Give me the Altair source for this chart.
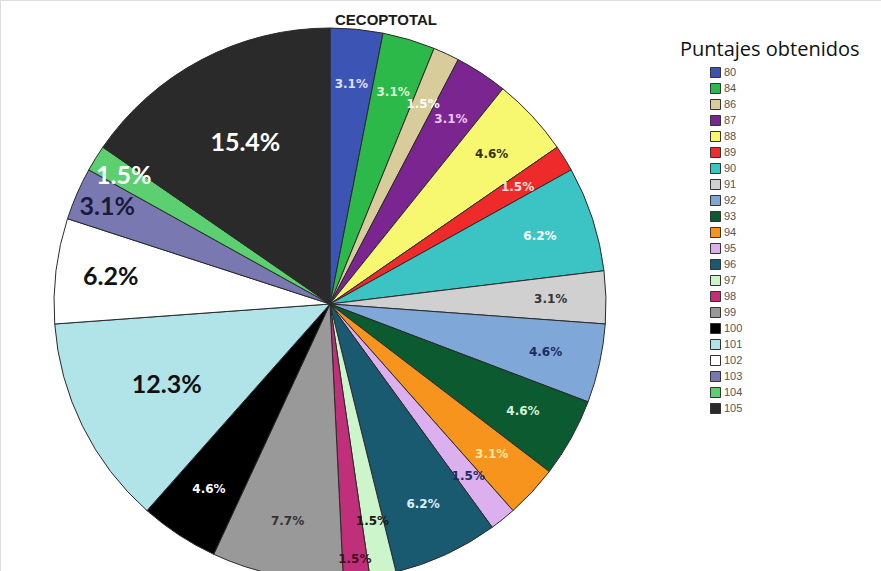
import altair as alt
import pandas as pd

# Puntajes (scores) and how many people obtained each one
puntajes = ["80", "84", "86", "87", "88", "89", "90", "91", "92", "93", "94",
            "95", "96", "97", "98", "99", "100", "101", "102", "103", "104", "105"]
frecuencias = [2, 2, 1, 2, 3, 1, 4, 2, 3, 3, 2, 1, 4, 1, 1, 5, 3, 8, 4, 2, 1, 10]
porcentajes = ["3.1%", "3.1%", "1.5%", "3.1%", "4.6%", "1.5%", "6.2%", "3.1%",
               "4.6%", "4.6%", "3.1%", "1.5%", "6.2%", "1.5%", "1.5%", "7.7%",
               "4.6%", "12.3%", "6.2%", "3.1%", "1.5%", "15.4%"]

# Slice fills and label colours
colores = ["#3c55b4", "#2db84a", "#d8cc9a", "#7a2590", "#f8f870", "#ee2a2a",
           "#3cc4c4", "#d0d0d0", "#7fa8d8", "#0b5a30", "#f7941d", "#dcb0ee",
           "#1a5a70", "#ccf5cc", "#c0307a", "#999999", "#000000", "#b0e4e8",
           "#ffffff", "#7a78b0", "#5cd070", "#2a2a2a"]
colores_texto = ["#e0e0ff", "#d8f5d8", "#ffffff", "#f0c8f5", "#333300", "#ffe0e0",
                 "#ffffff", "#333333", "#1c2c60", "#d8f0d8", "#ffe8a0", "#1c2c60",
                 "#d8f0ff", "#1a1a1a", "#401020", "#333333", "#ffffff", "#111111",
                 "#111111", "#1a1a3a", "#ffffff", "#ffffff"]

df = pd.DataFrame({
    "idx": list(range(len(puntajes))),
    "puntaje": puntajes,
    "n": frecuencias,
    "pct": porcentajes,
    "tcolor": colores_texto,
})

CX, CY, R = 330, 304, 276

base = alt.Chart(df).encode(
    theta=alt.Theta("n:Q", stack=True),
    order=alt.Order("idx:Q"),
    x=alt.value(CX),
    y=alt.value(CY),
)

arcs = base.mark_arc(radius=R, stroke="#2a2a2a", strokeWidth=1).encode(
    color=alt.Color(
        "puntaje:N",
        sort=puntajes,
        scale=alt.Scale(domain=puntajes, range=colores),
        legend=alt.Legend(
            title=None,
            orient="none",
            legendX=710,
            legendY=67,
            symbolType="square",
            symbolSize=100,
            symbolStrokeColor="#333333",
            symbolStrokeWidth=1,
            labelFontSize=11,
            labelFont="Liberation Sans",
            labelColor="#555555",
            rowPadding=1,
            labelOffset=3,
        ),
    )
)


def etiquetas(cond, radio, font, size):
    """Percentage labels for the slices selected by `cond`, at a fixed radius.
    Every layer keeps all rows so the stacked angles stay the same."""
    return base.transform_calculate(
        lab=f"({cond}) ? datum.pct : ''"
    ).mark_text(
        radius=radio, font=font, fontWeight="bold", fontSize=size
    ).encode(
        text="lab:N",
        color=alt.Color("tcolor:N", scale=None),
    )


capas_texto = [
    etiquetas("datum.idx < 17 && datum.idx != 14", R * 0.8, "DejaVu Sans", 12),
    etiquetas("datum.idx == 14", R * 0.93, "DejaVu Sans", 12),
    etiquetas("datum.idx == 17 || datum.idx == 21", R * 0.66, "Lato", 25),
    etiquetas("datum.idx == 18", R * 0.8, "Lato", 25),
    etiquetas("datum.idx == 19 || datum.idx == 20", R * 0.88, "Lato", 25),
]

titulo = alt.Chart(pd.DataFrame({"t": ["CECOPTOTAL"]})).mark_text(
    font="Liberation Sans", fontWeight="bold", fontSize=15, color="#1a1a1a"
).encode(text="t:N", x=alt.value(386), y=alt.value(20))

leyenda_titulo = alt.Chart(pd.DataFrame({"t": ["Puntajes  obtenidos"]})).mark_text(
    font="Open Sans", fontSize=20, color="#111111", align="left",
    baseline="alphabetic"
).encode(text="t:N", x=alt.value(680), y=alt.value(56))

chart = alt.layer(arcs, *capas_texto, titulo, leyenda_titulo).properties(
    width=881,
    height=571,
    padding=0,
    autosize=alt.AutoSizeParams(type="none"),
).configure_view(stroke=None).configure(background="white")

chart.save("out.html", embed_options={"renderer": "svg", "actions": False})
